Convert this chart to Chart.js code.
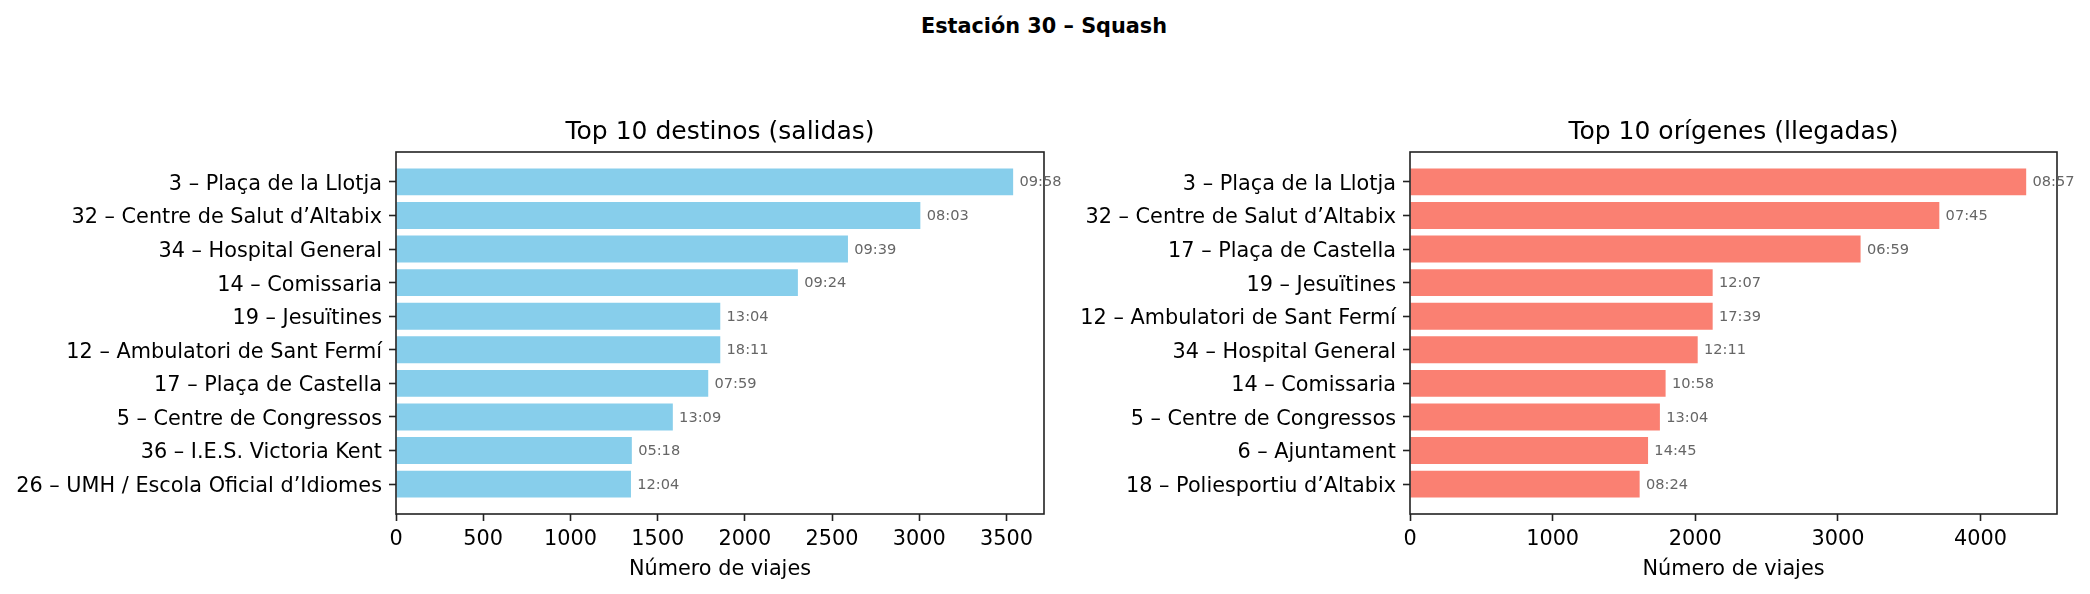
<!DOCTYPE html>
<html><head><meta charset="utf-8">
<script src="https://cdn.jsdelivr.net/npm/chart.js@4.4.0/dist/chart.umd.min.js"></script>
<style>
html,body{margin:0;padding:0;background:#fff;}
body{width:2090px;height:594px;position:relative;overflow:hidden;font-family:"DejaVu Sans",sans-serif;}
#sup{position:absolute;left:0;width:2088px;top:13.5px;text-align:center;font-weight:bold;font-size:20.8px;line-height:25px;color:#000;white-space:nowrap;}
canvas{position:absolute;top:0;}
</style></head><body>
<div id="sup"></div>
<canvas id="c1" width="1100" height="594" style="left:0"></canvas>
<canvas id="c2" width="1045" height="594" style="left:1045px"></canvas>
<script>
const suptitle = 'Estación 30 – Squash';
const xAxisTitle = 'Número de viajes';

const leftTitle = 'Top 10 destinos (salidas)';
const leftLabels = [
  '3 – Plaça de la Llotja',
  '32 – Centre de Salut d’Altabix',
  '34 – Hospital General',
  '14 – Comissaria',
  '19 – Jesuïtines',
  '12 – Ambulatori de Sant Fermí',
  '17 – Plaça de Castella',
  '5 – Centre de Congressos',
  '36 – I.E.S. Victoria Kent',
  '26 – UMH / Escola Oficial d’Idiomes'
];
const leftValues = [3538, 3006, 2591, 2304, 1859, 1859, 1790, 1587, 1352, 1347];
const leftTimes = ['09:58', '08:03', '09:39', '09:24', '13:04', '18:11', '07:59', '13:09', '05:18', '12:04'];
const leftXTicks = [0, 500, 1000, 1500, 2000, 2500, 3000, 3500];

const rightTitle = 'Top 10 orígenes (llegadas)';
const rightLabels = [
  '3 – Plaça de la Llotja',
  '32 – Centre de Salut d’Altabix',
  '17 – Plaça de Castella',
  '19 – Jesuïtines',
  '12 – Ambulatori de Sant Fermí',
  '34 – Hospital General',
  '14 – Comissaria',
  '5 – Centre de Congressos',
  '6 – Ajuntament',
  '18 – Poliesportiu d’Altabix'
];
const rightValues = [4320, 3711, 3159, 2122, 2122, 2017, 1792, 1752, 1669, 1610];
const rightTimes = ['08:57', '07:45', '06:59', '12:07', '17:39', '12:11', '10:58', '13:04', '14:45', '08:24'];
const rightXTicks = [0, 1000, 2000, 3000, 4000];

document.getElementById('sup').textContent = suptitle;

const FONT = '"DejaVu Sans", sans-serif';

function makeChart(id, labels, values, times, xTicks, title, color, yAxisWidth, rightPad) {
  const xMax = Math.max(...values) * 1.05;
  const lo = -0.4, hi = labels.length - 1 + 0.4, m = 0.05 * (hi - lo);
  const frame = {
    id: 'frame_' + id,
    afterDatasetsDraw(chart) {
      const ctx = chart.ctx, a = chart.chartArea;
      ctx.save();
      ctx.strokeStyle = '#222';
      ctx.lineWidth = 1.6;
      ctx.strokeRect(a.left, a.top, a.right - a.left, a.bottom - a.top);
      const meta = chart.getDatasetMeta(0);
      ctx.font = '14.6px ' + FONT;
      ctx.fillStyle = '#666';
      ctx.textBaseline = 'middle';
      ctx.textAlign = 'left';
      meta.data.forEach((el, i) => ctx.fillText(times[i], el.x + 6.3, el.y + 0.8));
      ctx.font = '25px ' + FONT;
      ctx.fillStyle = '#000';
      ctx.textAlign = 'center';
      ctx.textBaseline = 'alphabetic';
      ctx.fillText(title, (a.left + a.right) / 2, a.top - 12.7);
      ctx.restore();
    }
  };
  return new Chart(document.getElementById(id), {
    type: 'bar',
    data: {
      datasets: [{
        data: values.map((v, i) => ({ x: v, y: i })),
        backgroundColor: color,
        borderWidth: 0,
        categoryPercentage: 1,
        barPercentage: 0.8
      }]
    },
    options: {
      indexAxis: 'y',
      responsive: false,
      animation: false,
      devicePixelRatio: 1,
      layout: { padding: { left: 0, right: rightPad, top: 152, bottom: 0 } },
      plugins: { legend: { display: false }, tooltip: { enabled: false }, title: { display: false } },
      scales: {
        y: {
          type: 'linear', min: lo - m, max: hi + m, reverse: true, offset: false, bounds: 'data',
          grid: { display: true, drawOnChartArea: false, drawTicks: true, tickLength: 7, tickWidth: 1.6, tickColor: '#222', offset: false },
          border: { display: false },
          ticks: { autoSkip: false, padding: 7, labelOffset: 2.5, color: '#000', font: { family: FONT, size: 20.8 },
            callback: (v) => (labels[v] !== undefined ? labels[v] : '') },
          afterBuildTicks: (s) => { s.ticks = labels.map((_, i) => ({ value: i })); },
          afterFit: (s) => { s.width = yAxisWidth; }
        },
        x: {
          type: 'linear', min: 0, max: xMax, bounds: 'data', offset: false,
          grid: { display: true, drawOnChartArea: false, drawTicks: true, tickLength: 7, tickWidth: 1.6, tickColor: '#222', offset: false },
          border: { display: false },
          ticks: { autoSkip: false, maxRotation: 0, padding: 6.5, color: '#000', font: { family: FONT, size: 20.8 },
            callback: (v) => String(v) },
          afterBuildTicks: (s) => { s.ticks = xTicks.map((v) => ({ value: v })); },
          afterFit: (s) => { s.height = 80; },
          title: { display: true, text: xAxisTitle, color: '#000', font: { family: FONT, size: 20.8 }, padding: { top: 0, bottom: 12 } }
        }
      }
    },
    plugins: [frame]
  });
}

makeChart('c1', leftLabels, leftValues, leftTimes, leftXTicks, leftTitle, '#87CEEB', 396, 56);
makeChart('c2', rightLabels, rightValues, rightTimes, rightXTicks, rightTitle, '#FA8072', 365, 33);
</script>
</body></html>
